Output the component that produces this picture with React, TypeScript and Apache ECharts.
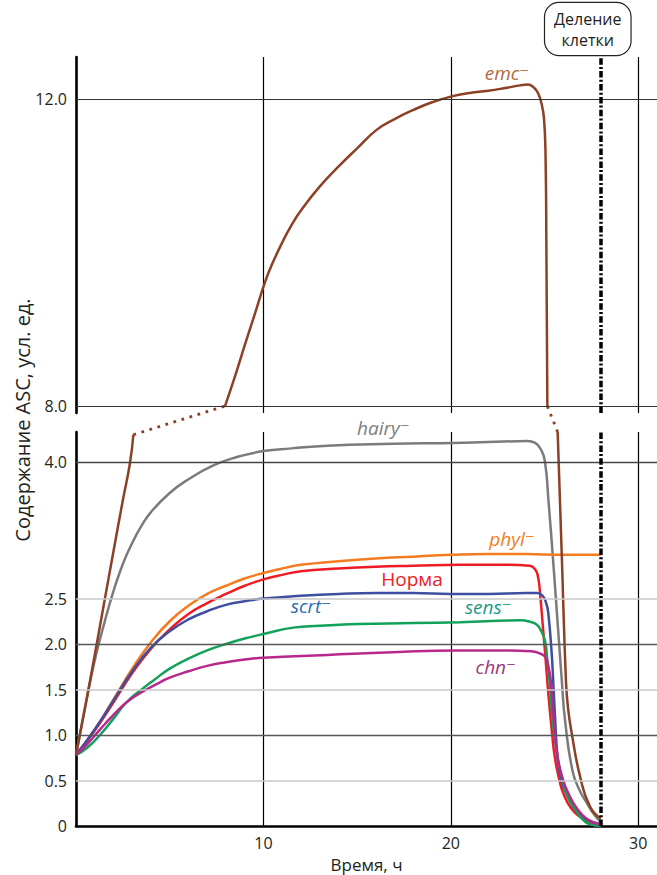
import React, { useEffect, useRef } from "react";
import * as echarts from "echarts";

// ---------- data ----------
const xTicks = [10, 20, 30];
const upperTicks = [8, 12];
const lowerTicks = [0, 0.5, 1, 1.5, 2, 2.5, 4];
const upperLines = [8, 12];
const lowerMajorLines = [1, 2];
const lowerTopLines = [4];
const lowerMinorLines = [0.5, 1.5, 2.5];
const divisionTime = 28;

const emcUpper = [[7.95, 8.0], [8.5, 8.4], [9.0, 8.79], [9.5, 9.17], [10.09, 9.62], [10.5, 9.87], [11.06, 10.16], [11.5, 10.36], [12, 10.55], [13, 10.86], [14, 11.12], [15, 11.36], [16.04, 11.6], [17, 11.74], [18, 11.86], [19, 11.96], [20.1, 12.04], [21, 12.08], [22, 12.11], [23, 12.15], [23.7, 12.18], [24.1, 12.19], [24.4, 12.16], [24.65, 12.08], [24.85, 11.93], [24.97, 11.75], [25.05, 11.3], [25.1, 10.0], [25.15, 8.0]];
const emcRise = [[0, 0.78], [0.5, 1.32], [1, 1.88], [1.5, 2.45], [2, 3.02], [2.5, 3.58], [2.88, 3.99], [3.06, 4.3]];
const emcFall = [[25.7, 4.33], [25.92, 2.97], [26.14, 1.6], [26.25, 1.3], [26.45, 1.02], [26.9, 0.54], [27.43, 0.21], [28, 0.08]];
const hairy = [[0, 0.78], [0.5, 1.32], [1, 1.82], [1.55, 2.26], [2, 2.58], [2.5, 2.88], [3, 3.11], [3.5, 3.3], [4, 3.45], [5, 3.66], [6, 3.81], [7.3, 3.96], [8.5, 4.05], [10, 4.12], [11.5, 4.15], [13.4, 4.18], [16.9, 4.2], [20.1, 4.21], [22, 4.22], [24.07, 4.23], [24.5, 4.21], [24.8, 4.14], [25.03, 3.99], [25.2, 3.6], [25.5, 2.8], [25.92, 1.6], [26.1, 1.15], [26.5, 0.6], [26.9, 0.38], [27.27, 0.25], [27.6, 0.14], [28, 0.04]];
const phyl = [[0, 0.78], [1, 1.06], [2, 1.39], [3, 1.73], [4, 2.02], [5, 2.25], [6, 2.42], [7, 2.55], [8, 2.64], [9, 2.72], [10, 2.78], [11, 2.83], [12, 2.87], [14, 2.91], [16, 2.94], [18, 2.96], [20, 2.98], [22, 2.99], [24, 2.99], [26, 2.98], [28, 2.98]];
const norma = [[0, 0.78], [1, 1.05], [2, 1.36], [3, 1.68], [4, 1.95], [5, 2.16], [6, 2.33], [7, 2.45], [8, 2.55], [9, 2.64], [10, 2.71], [11, 2.76], [12, 2.8], [14, 2.83], [16, 2.85], [18, 2.86], [20.5, 2.87], [23, 2.87], [24.2, 2.86], [24.5, 2.82], [24.65, 2.74], [24.76, 2.56], [24.9, 2.22], [25.03, 1.9], [25.2, 1.46], [25.4, 1.02], [25.56, 0.74], [25.8, 0.5], [26.0, 0.36], [26.4, 0.2], [26.9, 0.1], [27.4, 0.04], [28, 0.01]];
const scrt = [[0, 0.78], [1, 1.06], [2, 1.38], [3, 1.7], [4, 1.96], [5, 2.14], [6, 2.27], [7, 2.36], [8, 2.43], [9, 2.47], [10, 2.5], [12, 2.53], [14, 2.55], [16, 2.56], [18, 2.56], [20, 2.55], [22, 2.55], [24, 2.56], [24.6, 2.56], [24.9, 2.53], [25.1, 2.44], [25.2, 2.34], [25.38, 1.9], [25.46, 1.6], [25.56, 1.2], [25.7, 0.74], [25.9, 0.5], [26.2, 0.34], [26.7, 0.16], [27.27, 0.07], [28, 0.02]];
const sens = [[0, 0.78], [0.6, 0.86], [1.28, 1.0], [2, 1.18], [2.7, 1.36], [3.5, 1.5], [4.2, 1.61], [5, 1.73], [6, 1.84], [7, 1.93], [8, 2.0], [9, 2.06], [10, 2.11], [11.6, 2.18], [13, 2.2], [15, 2.22], [18, 2.23], [20.5, 2.24], [23.7, 2.26], [24.3, 2.24], [24.6, 2.21], [24.8, 2.15], [25.03, 2.03], [25.15, 1.82], [25.26, 1.6], [25.47, 1.09], [25.7, 0.75], [25.92, 0.54], [26.2, 0.34], [26.54, 0.21], [27.0, 0.08], [27.4, 0.02], [28, 0.0]];
const chn = [[0, 0.78], [0.6, 0.9], [1.28, 1.06], [2, 1.22], [2.7, 1.36], [3.5, 1.47], [4.3, 1.56], [5, 1.63], [6, 1.7], [7, 1.76], [8, 1.8], [9, 1.83], [10, 1.85], [13.4, 1.88], [16.9, 1.91], [20.3, 1.93], [22, 1.93], [24.3, 1.92], [24.7, 1.9], [25.03, 1.86], [25.15, 1.8], [25.33, 1.6], [25.5, 1.15], [25.7, 0.75], [26.0, 0.5], [26.27, 0.36], [26.7, 0.2], [27.25, 0.08], [28, 0.01]];

// ---------- styles ----------
const FONT = '"Open Sans", "DejaVu Sans", sans-serif';
const TXT = "#231f20";
const C = {
  emc: "#8c4024", emcLabel: "#b06a40",
  hairy: "#7b7b7b", hairyLabel: "#7d7d7d",
  phyl: "#f47b20",
  norma: "#ed1c24",
  scrt: "#3e4ea1", scrtLabel: "#1f6db5",
  sens: "#12a15a", sensLabel: "#1a9a86",
  chn: "#b7288c", chnLabel: "#973a7d",
};

const GRID_L = 76, GRID_W = 581;

function lineSeries(name: string, data: number[][], color: string, grid: number) {
  return {
    type: "line", name, data, xAxisIndex: grid, yAxisIndex: grid,
    smooth: 0.5, showSymbol: false, symbol: "none",
    lineStyle: { color, width: 2.5 }, z: 3, silent: true, clip: false,
  };
}

function hLines(values: number[], color: string, width: number) {
  return values.map((v) => ({ yAxis: v, lineStyle: { color, width, type: "solid" } }));
}

function markerSeries(grid: number, data: any[], z: number) {
  return {
    type: "line", data: [], xAxisIndex: grid, yAxisIndex: grid, z, silent: true,
    markLine: { silent: true, symbol: ["none", "none"], label: { show: false }, animation: false, data },
  };
}

const divisionLine = [{ xAxis: divisionTime, lineStyle: { color: "#000", width: 3.5, type: [6.5, 2.2, 2, 2.2] } }];

function fmt(v: number) { return v === 0 ? "0" : v.toFixed(1); }
function has(list: number[], v: number) { return list.some((t) => Math.abs(t - v) < 1e-9); }

function buildOption(): any {
  const xBase = {
    type: "value", min: 0, max: 31, interval: 10,
    axisTick: { show: false },
    splitLine: { show: true, showMaxLine: false, lineStyle: { color: "#000", width: 1.2 } },
  };
  return {
    animation: false,
    backgroundColor: "#fff",
    grid: [
      { left: GRID_L, width: GRID_W, top: 57, height: 356, outerBoundsMode: "none", containLabel: false },
      { left: GRID_L, width: GRID_W, top: 432, height: 394, outerBoundsMode: "none", containLabel: false },
    ],
    xAxis: [
      { ...xBase, gridIndex: 0, axisLine: { show: false }, axisLabel: { show: false } },
      {
        ...xBase, gridIndex: 1,
        axisLine: { show: true, onZero: false, lineStyle: { color: "#000", width: 2.6 } },
        axisLabel: { show: true, color: TXT, fontSize: 16, fontFamily: FONT, margin: 9, formatter: (v: number) => (has(xTicks, v) ? String(v) : "") },
        name: "Время, ч", nameLocation: "middle", nameGap: 30,
        nameTextStyle: { color: TXT, fontSize: 17, fontFamily: FONT },
      },
    ],
    yAxis: [
      {
        type: "value", gridIndex: 0, min: 7.91, max: 12.55,
        axisLine: { show: true, onZero: false, lineStyle: { color: "#000", width: 2.6 } },
        axisTick: { show: false }, splitLine: { show: false },
        axisLabel: { color: TXT, fontSize: 16, fontFamily: FONT, margin: 9, formatter: (v: number) => (has(upperTicks, v) ? fmt(v) : "") },
      },
      {
        type: "value", gridIndex: 1, min: 0, max: 4.33, interval: 0.5,
        axisLine: { show: true, onZero: false, lineStyle: { color: "#000", width: 2.6 } },
        axisTick: { show: false }, splitLine: { show: false },
        axisLabel: { color: TXT, fontSize: 16, fontFamily: FONT, margin: 9, formatter: (v: number) => (has(lowerTicks, v) ? fmt(v) : "") },
      },
    ],
    series: [
      markerSeries(0, hLines(upperLines, "#333", 1.2), 1),
      markerSeries(1, [
        ...hLines(lowerMinorLines, "#c8c8c8", 1.5),
        ...hLines(lowerMajorLines, "#585858", 1.3),
        ...hLines(lowerTopLines, "#444", 1.3),
      ], 1),
      lineSeries("emc-upper", emcUpper, C.emc, 0),
      lineSeries("hairy", hairy, C.hairy, 1),
      lineSeries("phyl", phyl, C.phyl, 1),
      lineSeries("Норма", norma, C.norma, 1),
      lineSeries("scrt", scrt, C.scrt, 1),
      lineSeries("sens", sens, C.sens, 1),
      lineSeries("chn", chn, C.chn, 1),
      lineSeries("emc-rise", emcRise, C.emc, 1),
      lineSeries("emc-fall", emcFall, C.emc, 1),
      markerSeries(0, divisionLine, 5),
      markerSeries(1, divisionLine, 5),
    ],
  };
}

function buildGraphic(chart: any): any[] {
  const p = (g: number, pt: number[]) => chart.convertToPixel({ gridIndex: g }, pt) as number[];
  const dotted = (a: number[], b: number[]) => ({
    type: "line", silent: true, z: 4,
    shape: { x1: a[0], y1: a[1], x2: b[0], y2: b[1] },
    style: { stroke: C.emc, lineWidth: 2.8, lineDash: [2.8, 5.6] },
  });
  const label = (g: number, pt: number[], text: string, fill: string, italic = true) => {
    const q = p(g, pt);
    return {
      type: "text", silent: true, z: 6, x: q[0], y: q[1],
      style: { text, fill, fontSize: 19, fontFamily: FONT, fontStyle: italic ? "italic" : "normal", textAlign: "center", textVerticalAlign: "middle" },
    };
  };
  const top = p(0, [divisionTime, 12.55]);
  return [
    dotted(p(1, emcRise[emcRise.length - 1]), p(0, emcUpper[0])),
    dotted(p(0, emcUpper[emcUpper.length - 1]), p(1, emcFall[0])),
    label(0, [23.0, 12.34], "emc⁻", C.emcLabel),
    label(1, [16.4, 4.374], "hairy⁻", C.hairyLabel),
    label(1, [23.27, 3.15], "phyl⁻", C.phyl),
    label(1, [17.93, 2.71], "Норма", C.norma, false),
    label(1, [12.54, 2.42], "scrt⁻", C.scrtLabel),
    label(1, [22.0, 2.41], "sens⁻", C.sensLabel),
    label(1, [22.4, 1.75], "chn⁻", C.chnLabel),
    {
      type: "text", silent: true, z: 6, x: top[0] - 13, y: top[1] - 28,
      style: {
        text: "Деление\nклетки", fill: TXT, fontSize: 16, lineHeight: 21, fontFamily: FONT,
        textAlign: "center", textVerticalAlign: "middle",
        backgroundColor: "#fff", borderColor: "#222", borderWidth: 1.2, borderRadius: 14, padding: [5, 9, 5, 9],
      },
    },
    {
      type: "text", silent: true, z: 6, x: 22, y: 420, rotation: Math.PI / 2,
      style: { text: "Содержание ASC, усл. ед.", fill: TXT, fontSize: 20, fontFamily: FONT, textAlign: "center", textVerticalAlign: "middle" },
    },
  ];
}

export default function App() {
  const ref = useRef<HTMLDivElement>(null);
  useEffect(() => {
    const chart = echarts.init(ref.current!, null, { renderer: "svg" });
    chart.setOption(buildOption());
    chart.setOption({ graphic: buildGraphic(chart) });
    return () => chart.dispose();
  }, []);
  return <div ref={ref} style={{ position: "absolute", left: 0, top: 0, width: 657, height: 875, background: "#fff" }} />;
}
